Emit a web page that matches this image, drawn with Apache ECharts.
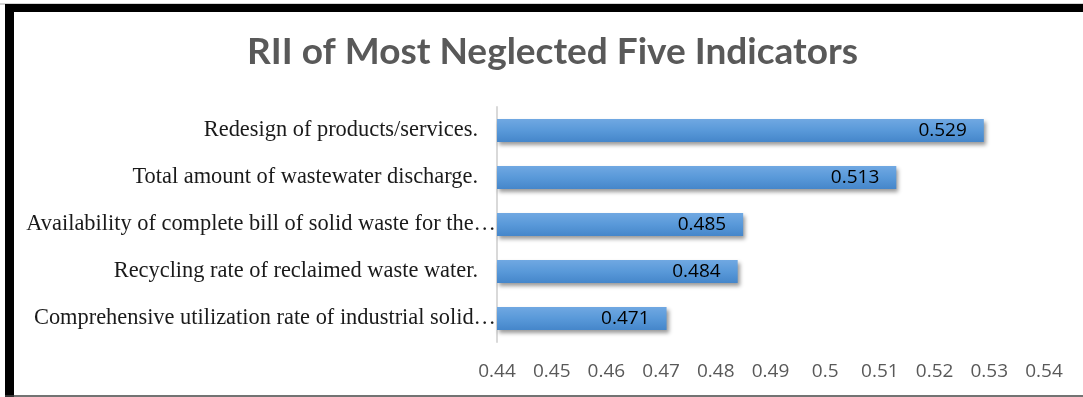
<!DOCTYPE html>
<html>
<head>
<meta charset="utf-8">
<script src="https://cdn.jsdelivr.net/npm/echarts@6/dist/echarts.min.js"></script>
<style>
  html, body { margin: 0; padding: 0; background: #fff; }
  #chart { width: 1083px; height: 397px; }
</style>
</head>
<body>
<div id="chart"></div>
<script>
// Indicators, listed top to bottom
const indicators = [
  'Redesign of products/services.',
  'Total amount of wastewater discharge.',
  'Availability of complete bill of solid waste for the…',
  'Recycling rate of reclaimed waste water.',
  'Comprehensive utilization rate of industrial solid…'
];
// Relative importance index for each indicator
const riiValues = [0.529, 0.513, 0.485, 0.484, 0.471];
// Value axis range
const axisMin = 0.44;
const axisMax = 0.54;
const axisStep = 0.01;

const catFont = { fontFamily: 'Liberation Serif', fontSize: 22.4, color: '#1a1a1a' };

const chart = echarts.init(document.getElementById('chart'));
chart.setOption({
  backgroundColor: '#fff',
  animation: false,
  title: {
    text: 'RII of Most Neglected Five Indicators',
    left: 242,
    top: 29,
    textStyle: {
      fontFamily: 'Lato',
      fontWeight: 'bold',
      fontSize: 37,
      color: '#595959'
    }
  },
  grid: { left: 497, right: 39, top: 107, bottom: 55 },
  xAxis: {
    type: 'value',
    min: axisMin,
    max: axisMax,
    interval: axisStep,
    axisLine: { show: false },
    axisTick: { show: false },
    splitLine: { show: false },
    axisLabel: {
      margin: 20,
      fontFamily: 'Open Sans',
      fontSize: 19,
      color: '#595959',
      formatter: v => String(+v.toFixed(2))
    }
  },
  yAxis: {
    type: 'category',
    inverse: true,
    data: indicators,
    axisLine: { show: true, lineStyle: { color: '#d9d9d9', width: 2 } },
    axisTick: { show: false },
    axisLabel: {
      margin: 1,
      // truncated names run up to the axis, full names keep a gap
      formatter: v => (v.endsWith('…') ? '{l|' + v + '}' : '{s|' + v + '}'),
      rich: {
        l: Object.assign({}, catFont),
        s: Object.assign({ padding: [0, 18, 0, 0] }, catFont)
      }
    }
  },
  series: [{
    type: 'bar',
    data: riiValues,
    barWidth: 23,
    itemStyle: {
      color: new echarts.graphic.LinearGradient(0, 0, 0, 1, [
        { offset: 0, color: '#70a8e2' },
        { offset: 0.5, color: '#5999d9' },
        { offset: 1, color: '#4586ca' }
      ]),
      shadowColor: 'rgba(0,0,0,0.4)',
      shadowBlur: 4,
      shadowOffsetX: 2,
      shadowOffsetY: 3
    },
    label: {
      show: true,
      position: 'insideRight',
      distance: 17,
      fontFamily: 'Open Sans',
      fontSize: 19,
      color: '#000',
      formatter: p => p.value.toFixed(3)
    }
  }],
  graphic: [
    // frame around the chart area
    { type: 'line', shape: { x1: 0, y1: 4, x2: 1083, y2: 4 }, style: { stroke: '#aaa', lineWidth: 1 } },
    { type: 'rect', shape: { x: 5, y: 4, width: 9, height: 393 }, style: { fill: '#000' } },
    { type: 'rect', shape: { x: 5, y: 4, width: 1078, height: 8 }, style: { fill: '#000' } },
    { type: 'line', shape: { x1: 5, y1: 396, x2: 1083, y2: 396 }, style: { stroke: '#444', lineWidth: 1.5 } }
  ]
});
</script>
</body>
</html>
